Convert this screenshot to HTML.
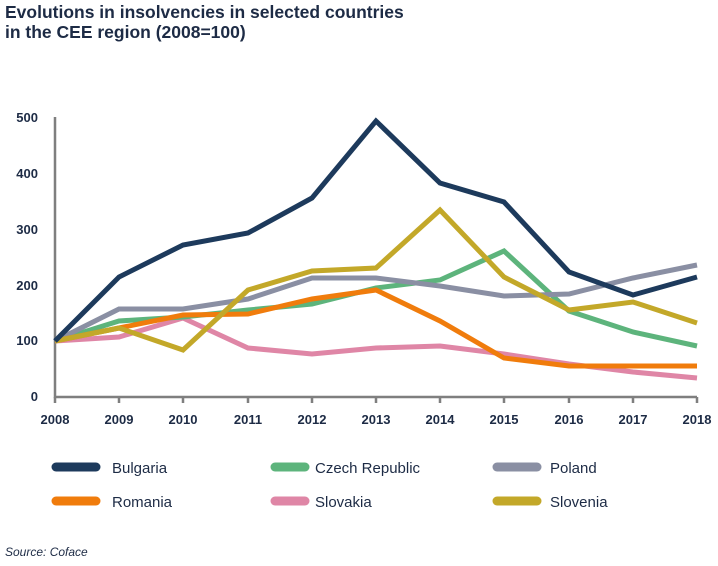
<!DOCTYPE html><html><head><style>body{margin:0;background:#fff}svg{display:block}text{font-family:"Liberation Sans",sans-serif;fill:#1d2b45}</style></head><body>
<svg width="718" height="566" viewBox="0 0 718 566">
<text x="5" y="18" font-size="17.5" font-weight="bold">Evolutions in insolvencies in selected countries</text>
<text x="5" y="38" font-size="17.5" font-weight="bold">in the CEE region (2008=100)</text>
<g font-size="13" font-weight="bold" text-anchor="end">
<text x="38" y="401">0</text><text x="38" y="345">100</text><text x="38" y="290">200</text><text x="38" y="234">300</text><text x="38" y="178">400</text><text x="38" y="122">500</text></g>
<g stroke="#7f7f7f" stroke-width="2.5" fill="none"><path d="M55 117V397H697"/>
<path d="M55 397v6M119 397v6M183 397v6M248 397v6M312 397v6M376 397v6M440 397v6M504 397v6M569 397v6M633 397v6M697 397v6"/></g>
<g font-size="13" font-weight="bold" text-anchor="middle">
<text x="55" y="424">2008</text><text x="119" y="424">2009</text><text x="183" y="424">2010</text><text x="248" y="424">2011</text><text x="312" y="424">2012</text><text x="376" y="424">2013</text><text x="440" y="424">2014</text><text x="504" y="424">2015</text><text x="569" y="424">2016</text><text x="633" y="424">2017</text><text x="697" y="424">2018</text></g>
<g fill="none" stroke-width="5" stroke-linejoin="miter">
<polyline stroke="#df86a6" points="55,341 119,337 183,318 248,348 312,354 376,348 440,346 504,354 569,364 633,372 697,378"/>
<polyline stroke="#5db47c" points="55,341 119,321 183,317 248,310 312,304 376,288 440,280 504,251 569,311 633,332 697,346"/>
<polyline stroke="#8a8fa3" points="55,341 119,309 183,309 248,299 312,278 376,278 440,286 504,296 569,294 633,278 697,265"/>
<polyline stroke="#f07c0c" points="55,341 119,328 183,315 248,314 312,299 376,290 440,321 504,358 569,366 633,366 697,366"/>
<polyline stroke="#c3a829" points="55,341 119,328 183,350 248,290 312,271 376,268 440,210 504,277 569,310 633,302 697,323"/>
<polyline stroke="#1d3a5c" points="55,341 119,277 183,245 248,233 312,198 376,121 440,183 504,202 569,272 633,295 697,277"/>
</g>
<g stroke-width="9" stroke-linecap="round">
<line x1="56" y1="467" x2="96" y2="467" stroke="#1d3a5c"/><line x1="275" y1="467" x2="305" y2="467" stroke="#5db47c"/><line x1="497" y1="467" x2="537" y2="467" stroke="#8a8fa3"/>
<line x1="56" y1="501" x2="96" y2="501" stroke="#f07c0c"/><line x1="275" y1="501" x2="305" y2="501" stroke="#df86a6"/><line x1="497" y1="501" x2="537" y2="501" stroke="#c3a829"/></g>
<g font-size="15">
<text x="112" y="473">Bulgaria</text><text x="315" y="473">Czech Republic</text><text x="550" y="473">Poland</text>
<text x="112" y="507">Romania</text><text x="315" y="507">Slovakia</text><text x="550" y="507">Slovenia</text></g>
<text x="5" y="556" font-size="12" font-style="italic" fill="#555">Source: Coface</text>
</svg></body></html>
